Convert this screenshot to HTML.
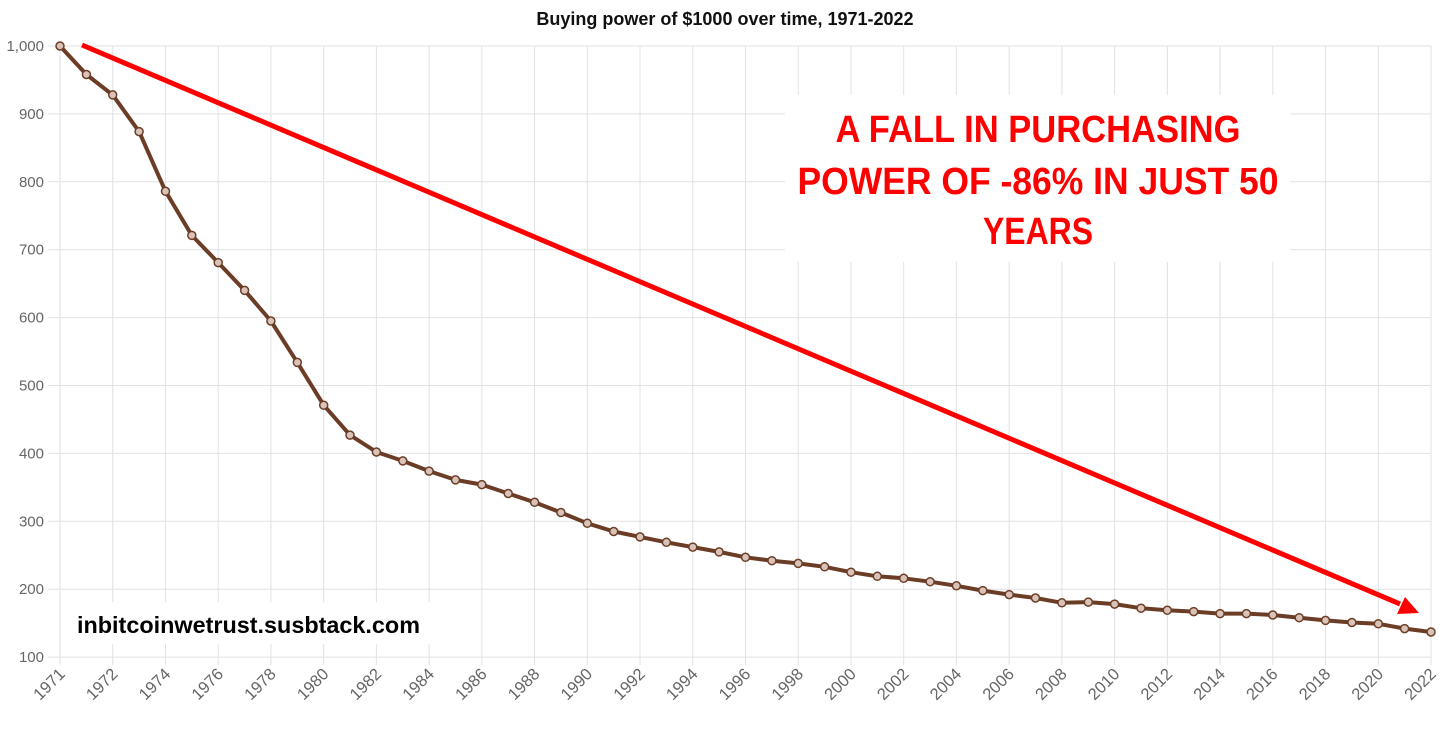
<!DOCTYPE html>
<html><head><meta charset="utf-8"><style>
html,body{margin:0;padding:0;background:#fff;}
svg{display:block;font-family:"Liberation Sans",sans-serif;}
</style></head><body>
<svg width="1446" height="732" viewBox="0 0 1446 732" xmlns="http://www.w3.org/2000/svg">
<text x="725" y="25" text-anchor="middle" font-size="18" font-weight="bold" fill="#111">Buying power of $1000 over time, 1971-2022</text>
<g id="grid" stroke="#e2e2e2" stroke-width="1"></g>
<g id="ylab" font-size="15" fill="#666" text-anchor="end"></g>
<g id="xlab" font-size="16.5" fill="#666"></g>
<rect x="785" y="95" width="505" height="167" fill="#fff"/>
<text x="1038" y="142" text-anchor="middle" font-size="38" font-weight="bold" fill="#f00" textLength="405" lengthAdjust="spacingAndGlyphs">A FALL IN PURCHASING</text>
<text x="1038" y="194" text-anchor="middle" font-size="38" font-weight="bold" fill="#f00" textLength="481" lengthAdjust="spacingAndGlyphs">POWER OF -86% IN JUST 50</text>
<text x="1038" y="244" text-anchor="middle" font-size="38" font-weight="bold" fill="#f00" textLength="110" lengthAdjust="spacingAndGlyphs">YEARS</text>
<rect x="65" y="602" width="370" height="42" fill="#fff"/>
<text x="77" y="633" font-size="23" font-weight="bold" fill="#000" textLength="343" lengthAdjust="spacingAndGlyphs">inbitcoinwetrust.susbtack.com</text>
<line x1="82" y1="45" x2="1400" y2="604" stroke="#f00" stroke-width="5"/>
<polygon points="1419,613 1397,614 1405,597" fill="#f00"/>
<g id="series"></g>
</svg>
<script>
var ns="http://www.w3.org/2000/svg";
function el(t,a,p){var e=document.createElementNS(ns,t);for(var k in a)e.setAttribute(k,a[k]);document.getElementById(p).appendChild(e);return e;}
var x0=60,dx=(1431-60)/52;
for(var v=100;v<=1000;v+=100){var y=46+(1000-v)*0.679;
el('line',{x1:48,x2:1431,y1:y,y2:y},'grid');
var t=el('text',{x:44,y:y+5},'ylab');t.textContent=v==1000?'1,000':v;}
for(var i=0;i<=52;i+=2){var x=x0+i*dx;el('line',{x1:x,x2:x,y1:46,y2:665},'grid');
var lab=i==0?1971:1970+i;var t=el('text',{x:0,y:0,'text-anchor':'end',transform:'translate('+(x+6)+',675) rotate(-45)'},'xlab');t.textContent=lab;}
var vals=[1000,958,928,874,786,721,681,640,595,534,471,427,402,389,374,361,354,341,328,313,297,285,277,269,262,255,247,242,238,233,225,219,216,211,205,198,192,187,180,181,178,172,169,167,164,164,162,158,154,151,149,142,137];
var pts=vals.map(function(v,i){return (x0+i*dx).toFixed(1)+','+(46+(1000-v)*0.679).toFixed(1);});
el('polyline',{points:pts.join(' '),fill:'none',stroke:'#6b3d26','stroke-width':4,'stroke-linejoin':'round'},'series');
pts.forEach(function(p){var q=p.split(',');el('circle',{cx:q[0],cy:q[1],r:4,fill:'#d9c2b8',stroke:'#6b3d26','stroke-width':1.5},'series');});
</script>
</body></html>
